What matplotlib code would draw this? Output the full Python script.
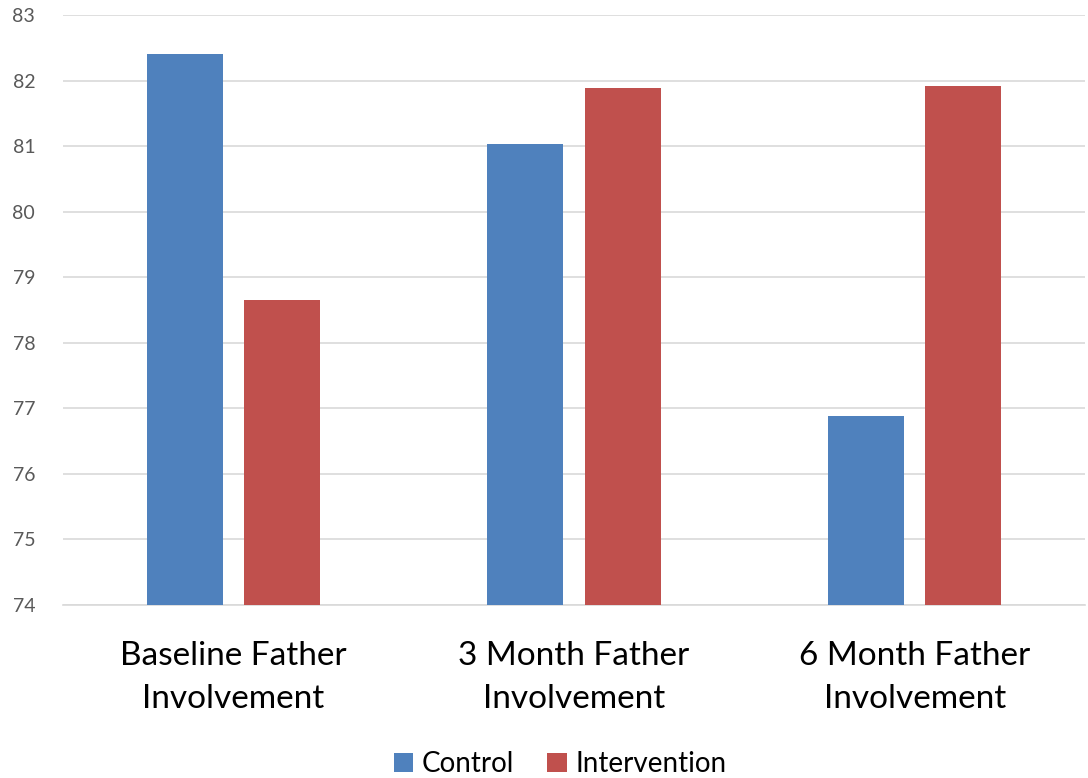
import matplotlib
matplotlib.use("Agg")
import matplotlib.pyplot as plt
import numpy as np
from matplotlib.patches import Patch

categories = ["Baseline Father\nInvolvement", "3 Month Father\nInvolvement", "6 Month Father\nInvolvement"]
series_names = ["Control", "Intervention"]
control = [82.41, 81.03, 76.89]
intervention = [78.65, 81.88, 81.92]
yticks = [74, 75, 76, 77, 78, 79, 80, 81, 82, 83]

colors = ["#4F81BD", "#C0504D"]

plt.rcParams['font.family'] = ['Lato', 'DejaVu Sans']

fig = plt.figure(figsize=(10.88, 7.78), dpi=100)
ax = fig.add_axes([63/1088, 1 - 605/778, (1085 - 63)/1088, (605 - 15)/778])

x = np.arange(len(categories))
w = 0.223
off = 0.1425
base = 74
ax.bar(x - off, np.array(control) - base, w, bottom=base, color=colors[0], zorder=3)
ax.bar(x + off, np.array(intervention) - base, w, bottom=base, color=colors[1], zorder=3)

ax.set_xlim(-0.5, 2.5)
ax.set_ylim(74, 83)
ax.set_yticks(yticks)
ax.set_yticklabels([str(t) for t in yticks], fontsize=14, color="#595959")
ax.yaxis.grid(True, color="#d9d9d9", linewidth=1.2, zorder=0)
ax.set_xticks(x)
ax.set_xticklabels(categories, fontsize=24, color="black", linespacing=1.55)
ax.tick_params(axis='y', length=0, pad=20)
ax.tick_params(axis='x', length=0, pad=26)
for s in ["top", "right", "left"]:
    ax.spines[s].set_visible(False)
ax.spines["bottom"].set_color("#d9d9d9")
ax.spines["bottom"].set_linewidth(1.2)

handles = [Patch(facecolor=c, label=n) for c, n in zip(colors, series_names)]
fig.legend(handles=handles, loc="center", bbox_to_anchor=(560/1088, 1 - 764/778),
           ncol=2, frameon=False, fontsize=20, handlelength=0.7, handleheight=0.7,
           handletextpad=0.3, columnspacing=1.2)

fig.savefig("out.png", dpi=100)
